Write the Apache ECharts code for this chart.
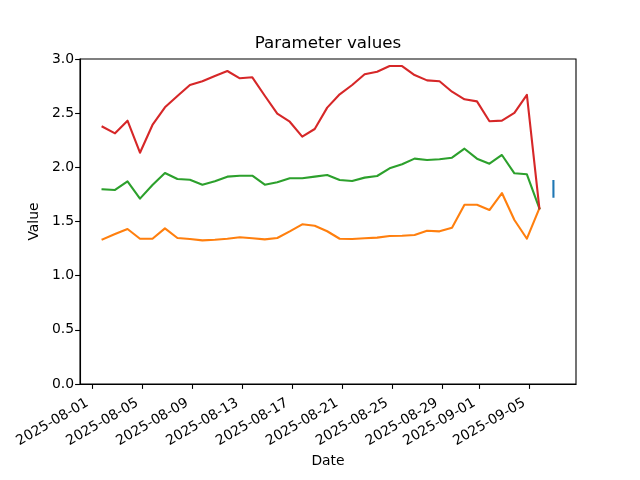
<!DOCTYPE html>
<html>
<head>
<meta charset="utf-8">
<script src="https://cdn.jsdelivr.net/npm/echarts@6/dist/echarts.min.js"></script>
<style>html,body{margin:0;padding:0;background:#fff}#c{width:640px;height:480px}</style>
</head>
<body>
<div id="c"></div>
<script>
const dates = [
  '2025-08-01T19:00Z','2025-08-02T19:00Z','2025-08-03T19:00Z','2025-08-04T19:00Z','2025-08-05T19:00Z','2025-08-06T19:00Z',
  '2025-08-07T19:00Z','2025-08-08T19:00Z','2025-08-09T19:00Z','2025-08-10T19:00Z','2025-08-11T19:00Z','2025-08-12T19:00Z',
  '2025-08-13T19:00Z','2025-08-14T19:00Z','2025-08-15T19:00Z','2025-08-16T19:00Z','2025-08-17T19:00Z','2025-08-18T19:00Z',
  '2025-08-19T19:00Z','2025-08-20T19:00Z','2025-08-21T19:00Z','2025-08-22T19:00Z','2025-08-23T19:00Z','2025-08-24T19:00Z',
  '2025-08-25T19:00Z','2025-08-26T19:00Z','2025-08-27T19:00Z','2025-08-28T19:00Z','2025-08-29T19:00Z','2025-08-30T19:00Z',
  '2025-08-31T19:00Z','2025-09-01T19:00Z','2025-09-02T19:00Z','2025-09-03T19:00Z','2025-09-04T19:00Z','2025-09-05T19:00Z'
];
const orangeValues = [1.335,1.385,1.431,1.341,1.341,1.437,1.348,1.338,1.326,1.332,1.341,1.354,1.345,1.335,1.348,1.409,1.474,1.461,
  1.410,1.341,1.338,1.345,1.351,1.366,1.369,1.375,1.415,1.409,1.443,1.655,1.655,1.606,1.763,1.514,1.341,1.622];
const greenValues = [1.797,1.791,1.871,1.711,1.837,1.948,1.892,1.886,1.840,1.871,1.914,1.923,1.923,1.840,1.862,1.899,1.899,1.914,
  1.929,1.883,1.874,1.905,1.920,1.991,2.028,2.080,2.068,2.074,2.089,2.172,2.080,2.034,2.114,1.945,1.936,1.622];
const redValues = [2.375,2.314,2.431,2.135,2.391,2.554,2.659,2.760,2.794,2.843,2.889,2.822,2.831,2.661,2.495,2.421,2.283,2.354,
  2.551,2.674,2.760,2.859,2.883,2.935,2.935,2.852,2.803,2.794,2.698,2.628,2.609,2.425,2.431,2.502,2.668,1.622];
const blueDates = ['2025-09-06T22:00Z','2025-09-06T22:05Z'];
const blueValues = [1.874,1.729];
const xTickLabels = ['2025-08-01','2025-08-05','2025-08-09','2025-08-13','2025-08-17','2025-08-21','2025-08-25','2025-08-29','2025-09-01','2025-09-05'];

const t = s => Date.parse(s);
const allT = dates.map(t).concat(blueDates.map(t));
const tMin = Math.min(...allT), tMax = Math.max(...allT);
const pad = (tMax - tMin) * 0.05;
const xTickVals = xTickLabels.map(s => Date.parse(s + 'T00:00Z'));
const fmtDate = v => new Date(v).toISOString().slice(0, 10);

const font = 'DejaVu Sans';
const mk = (name, xs, ys, color) => ({
  name, type: 'line', data: xs.map((x, i) => [t(x), ys[i]]),
  showSymbol: false, symbol: 'none', animation: false,
  lineStyle: { color, width: 2.1, join: 'round', cap: 'square' }, itemStyle: { color }
});

const chart = echarts.init(document.getElementById('c'), null, { renderer: 'canvas' });
chart.setOption({
  animation: false,
  backgroundColor: '#fff',
  title: {
    text: 'Parameter values', left: 323, top: 30, textAlign: 'center',
    textStyle: { fontFamily: font, fontSize: 16.7, fontWeight: 'normal', color: '#000' }
  },
  grid: { left: 80, right: 64, top: 59, bottom: 96, show: true, borderColor: '#000', borderWidth: 1.1, backgroundColor: 'transparent' },
  xAxis: {
    type: 'value', min: tMin - pad, max: tMax + pad,
    name: 'Date', nameLocation: 'middle', nameGap: 64,
    nameTextStyle: { fontFamily: font, fontSize: 13.9, color: '#000' },
    axisLine: { show: true, onZero: false, lineStyle: { color: '#000', width: 1.1 } },
    axisTick: { show: true, length: 4.9, lineStyle: { color: '#000', width: 1.1 }, customValues: xTickVals },
    axisLabel: { rotate: 30, margin: 15, padding: [0, 6, 0, 0], fontFamily: font, fontSize: 13.9, color: '#000', customValues: xTickVals, formatter: v => fmtDate(v) },
    splitLine: { show: false }
  },
  yAxis: {
    type: 'value', min: 0, max: 3, interval: 0.5,
    name: 'Value', nameLocation: 'middle', nameGap: 38, nameRotate: 90,
    nameTextStyle: { fontFamily: font, fontSize: 13.9, color: '#000' },
    axisLine: { show: true, lineStyle: { color: '#000', width: 1.1 } },
    axisTick: { show: true, length: 4.9, lineStyle: { color: '#000', width: 1.1 } },
    axisLabel: { margin: 6, fontFamily: font, fontSize: 13.9, color: '#000', formatter: v => v.toFixed(1) },
    splitLine: { show: false }
  },
  series: [
    mk('P1', blueDates, blueValues, '#1f77b4'),
    mk('P2', dates, orangeValues, '#ff7f0e'),
    mk('P3', dates, greenValues, '#2ca02c'),
    mk('P4', dates, redValues, '#d62728')
  ]
});
</script>
</body>
</html>
